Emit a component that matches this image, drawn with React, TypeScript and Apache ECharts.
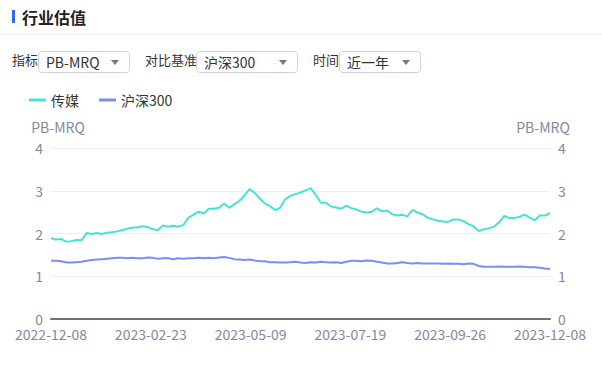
import React, { useEffect, useRef } from "react";
import * as echarts from "echarts";

// Trading-day axis: 246 trading days (index 0..245), labelled every 49 days
const TICK_DATES = ["2022-12-08", "2023-02-23", "2023-05-09", "2023-07-19", "2023-09-26", "2023-12-08"];
const TOTAL_DAYS = 245;
const TICK_STEP = 49;
// sampled every 2.5 trading days
const SAMPLE_STEP = 2.5;

const MEDIA_PB = [
  1.89, 1.86, 1.87, 1.81, 1.82, 1.85, 1.84, 2.01, 1.99, 2.01,
  1.99, 2.02, 2.03, 2.05, 2.08, 2.11, 2.14, 2.14, 2.17, 2.15,
  2.10, 2.08, 2.19, 2.16, 2.18, 2.16, 2.20, 2.37, 2.44, 2.51,
  2.47, 2.58, 2.58, 2.60, 2.70, 2.60, 2.68, 2.76, 2.90, 3.04,
  2.95, 2.82, 2.70, 2.64, 2.55, 2.60, 2.80, 2.88, 2.92, 2.96,
  3.01, 3.06, 2.90, 2.72, 2.72, 2.63, 2.61, 2.58, 2.65, 2.59,
  2.56, 2.51, 2.49, 2.51, 2.59, 2.52, 2.54, 2.45, 2.42, 2.44,
  2.40, 2.55, 2.49, 2.45, 2.37, 2.33, 2.30, 2.28, 2.27, 2.33,
  2.33, 2.29, 2.22, 2.17, 2.06, 2.10, 2.12, 2.16, 2.26, 2.41,
  2.36, 2.36, 2.39, 2.44, 2.37, 2.31, 2.42, 2.42, 2.48,
];

const HS300_PB = [
  1.36, 1.36, 1.35, 1.32, 1.32, 1.33, 1.34, 1.36, 1.38, 1.39,
  1.40, 1.41, 1.42, 1.43, 1.43, 1.42, 1.43, 1.42, 1.42, 1.44,
  1.43, 1.41, 1.42, 1.42, 1.40, 1.42, 1.41, 1.42, 1.42, 1.43,
  1.42, 1.43, 1.42, 1.44, 1.45, 1.43, 1.40, 1.39, 1.38, 1.39,
  1.37, 1.35, 1.35, 1.33, 1.33, 1.32, 1.32, 1.33, 1.34, 1.32,
  1.31, 1.33, 1.32, 1.34, 1.33, 1.32, 1.33, 1.31, 1.34, 1.36,
  1.36, 1.35, 1.37, 1.36, 1.34, 1.32, 1.30, 1.30, 1.31, 1.33,
  1.31, 1.30, 1.31, 1.30, 1.30, 1.30, 1.30, 1.29, 1.30, 1.29,
  1.29, 1.28, 1.30, 1.29, 1.24, 1.22, 1.22, 1.22, 1.23, 1.22,
  1.22, 1.22, 1.23, 1.22, 1.21, 1.21, 1.20, 1.18, 1.17,
];

const SERIES_NAMES = ["传媒", "沪深300"];
const Y_NAME = "PB-MRQ";

const FONT = "'Noto Sans CJK SC', 'Noto Sans', sans-serif";
const LABEL_COLOR = "#86869e";
const TEXT_COLOR = "#333";

function selectBox(x: number, w: number, label: string, value: string, labelX: number) {
  const y = 51;
  const h = 21;
  return [
    { type: "text", left: labelX, top: y + 10.5 - 9, style: { text: label, fontSize: 13, fill: TEXT_COLOR, fontFamily: FONT } },
    { type: "rect", shape: { x: x + 0.5, y: y + 0.5, width: w, height: h, r: 3 }, style: { fill: "#fff", stroke: "#cfcfe6", lineWidth: 1 } },
    { type: "text", x: x + 8, y: y + 11, style: { text: value, fontSize: 14, fill: TEXT_COLOR, fontFamily: FONT, verticalAlign: "middle" } },
    {
      type: "polygon",
      shape: { points: [[x + w - 18, y + 9], [x + w - 10, y + 9], [x + w - 14, y + 14]] },
      style: { fill: "#757590" },
    },
  ];
}

export default function App() {
  const ref = useRef<HTMLDivElement>(null);
  useEffect(() => {
    if (!ref.current) return;
    const chart = echarts.init(ref.current, undefined, { renderer: "svg" });
    const mediaData = MEDIA_PB.map((v, i) => [Math.min(i * SAMPLE_STEP, TOTAL_DAYS), v]);
    const hsData = HS300_PB.map((v, i) => [Math.min(i * SAMPLE_STEP, TOTAL_DAYS), v]);
    const yAxisCommon = {
      type: "value",
      min: 0,
      max: 4,
      interval: 1,
      name: Y_NAME,
      nameLocation: "end",
      nameGap: 14,
      axisLine: { show: false },
      axisTick: { show: false },
      axisLabel: { color: LABEL_COLOR, fontSize: 14, fontFamily: FONT, margin: 8 },
    };
    chart.setOption({
      animation: false,
      textStyle: { fontFamily: FONT },
      graphic: [
        { type: "rect", shape: { x: 12, y: 10, width: 3, height: 13 }, style: { fill: "#2f6bea" } },
        { type: "text", x: 22, y: 16.5, style: { text: "行业估值", fontSize: 16, fontWeight: "bold", fill: "#222", fontFamily: FONT, verticalAlign: "middle" } },
        { type: "line", shape: { x1: 0, y1: 34.5, x2: 602, y2: 34.5 }, style: { stroke: "#eeeef3", lineWidth: 1 } },
        ...selectBox(38, 91, "指标", "PB-MRQ", 12),
        ...selectBox(196, 101, "对比基准", "沪深300", 145),
        ...selectBox(339, 81, "时间", "近一年", 313),
      ],
      legend: {
        left: 24,
        top: 88,
        itemWidth: 17,
        itemHeight: 10,
        itemGap: 20,
        icon: "rect",
        textStyle: { fontSize: 14, color: TEXT_COLOR, fontFamily: FONT },
        data: SERIES_NAMES.map((n) => ({ name: n, icon: "path://M0,4 L17,4 L17,7 L0,7 Z" })),
      },
      grid: { left: 51, right: 52, top: 148, bottom: 52 },
      xAxis: {
        type: "value",
        min: 0,
        max: TOTAL_DAYS,
        interval: TICK_STEP,
        splitLine: { show: false },
        axisTick: { show: false },
        axisLine: { lineStyle: { color: "#6e6e88", width: 2 } },
        axisLabel: {
          color: LABEL_COLOR,
          fontSize: 14,
          fontFamily: FONT,
          margin: 8,
          showMinLabel: true,
          showMaxLabel: true,
          formatter: (v: number) => TICK_DATES[Math.round(v / TICK_STEP)] ?? "",
        },
      },
      yAxis: [
        {
          ...yAxisCommon,
          position: "left",
          nameTextStyle: { color: LABEL_COLOR, fontSize: 14, fontFamily: FONT, align: "center", padding: [0, 0, 0, 14] },
          splitLine: { lineStyle: { color: "#eeeef6", width: 1 } },
        },
        {
          ...yAxisCommon,
          position: "right",
          nameTextStyle: { color: LABEL_COLOR, fontSize: 14, fontFamily: FONT, align: "center", padding: [0, 14, 0, 0] },
          splitLine: { show: false },
        },
      ],
      series: [
        {
          name: SERIES_NAMES[0],
          type: "line",
          data: mediaData,
          showSymbol: false,
          symbol: "none",
          lineStyle: { color: "#45e2d8", width: 2 },
          itemStyle: { color: "#45e2d8" },
        },
        {
          name: SERIES_NAMES[1],
          type: "line",
          data: hsData,
          showSymbol: false,
          symbol: "none",
          lineStyle: { color: "#7b8dfb", width: 2 },
          itemStyle: { color: "#7b8dfb" },
        },
      ],
    });
    return () => chart.dispose();
  }, []);
  return (
    <div style={{ position: "absolute", left: 0, top: 0, width: 602, height: 371, background: "#fff" }}>
      <div ref={ref} style={{ width: 602, height: 371 }} />
    </div>
  );
}
